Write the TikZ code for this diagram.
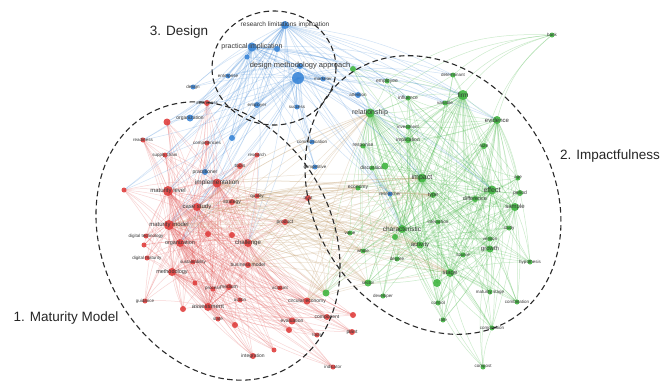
\documentclass[tikz,border=0pt]{standalone}
\usepackage{fontspec}
\setmainfont{Liberation Sans}
\usetikzlibrary{positioning}
\definecolor{mmred}{HTML}{E0403F}
\definecolor{impgreen}{HTML}{42B642}
\definecolor{dsgblue}{HTML}{3A86D8}
\definecolor{mixtan}{HTML}{C4A070}
\definecolor{termtext}{HTML}{383838}
\definecolor{hulldark}{HTML}{2A2A2A}

% term lists: name/x/y/dot radius/label size/label
\def\redterms{matlevel/168/191/5/6/maturity level, matmodel/169/225/5/6/maturity model,
  implement/217/183/4.5/6.5/implementation, casestudy/197/207/4/6/case study,
  challenge/248/243/4/6/challenge, assess/208/307/4/6/assessment,
  orgred/180/243/4/5.5/organization, method/172/272/4/5.5/methodology,
  readiness/143/140/2.5/4.5/readiness, supply/165/155/2.5/4.5/supply chain,
  competen/207/143/2.5/4.5/competencies, digtech/146/236/2.5/4.5/digital technology,
  digmat/147/258/2.5/4.5/digital maturity, sustain/193/262/2.5/4.5/sustainability,
  guidance/145/301/2.5/4.5/guidance, stater/218/319/2.5/4.5/state,
  integr/253/356/3/5/integration, evaluation/292/321/3.5/5/evaluation,
  circular/307/301/3.5/5/circular economy, component/327/317/3/5/component,
  topic/317/335/2.5/4.5/tools, plant/352/332/3/5/plant, indicator/333/367/2.5/4.5/indicator,
  account/280/288/2.5/4.5/account, medium/229/287/3/5/medium, process/213/289/2.5/4.5/process,
  action/240/300/2.5/4.5/action, business/248/265/3/5/business model,
  strategy/232/202/3/5/strategy, product/285/222/3/5/product, quality/257/196/2.5/4.5/quality,
  research/257/155/2.5/4.5/research, tools/240/166/3/5/tools, trust/308/198/3/4.5/trust,
  awareness/207/103/3/4.5/awareness,
  r1/167/122/3.5/4/{}, r2/124/190/2.5/4/{}, r3/144/245/2.5/4/{}, r4/183/309/3/4/{},
  r5/235/325/3/4/{}, r6/274/350/2.5/4/{}, r7/289/330/3/4/{}, r8/353/315/3/4/{},
  r9/195/283/2.5/4/{}, r10/208/234/3/4/{}, r11/232/235/3/4/{}}

\def\blueterms{dmhub/298/78/6/4/{}, designmeth/300/66/3/7.5/design methodology approach,
  reslim/285/25/4/6.5/research limitations implication, practical/252/47/4.5/7/practical implication,
  b1/277/49/3/4/{}, b2/247/57/2.5/4/{}, enterprise/228/76/2.5/4.5/enterprise,
  marketer/323/79/2.5/4.5/marketer, design/193/87/2.5/4.5/design,
  employer/257/105/3/4.5/employer, success/297/107/2.5/4.5/success,
  orgblue/190/118/3.5/5/organization, b3/232/138/3/4/{}, practitioner/205/172/3/5/practitioner,
  attention/358/95/3/4.5/attention, researcher/390/194/2.5/4.5/researcher,
  communication/312/142/2.5/4.5/communication, competitive/315/167/2.5/4.5/competitive}

\def\greenterms{firm/463/95/5/6.5/firm, impact/422/178/4.5/7/impact,
  relationship/370/113/4.5/7/relationship, effect/492/190/4.5/7/effect,
  sample/515/207/4/6/sample, stage/450/273/4/6/stage, characteristic/402/229/4/6.5/characteristic,
  activity/420/245/3.5/6/activity, growth/490/249/3.5/6/growth, evidence/497/120/4/6/evidence,
  determinant/453/75/2.5/4.5/determinant, employee/387/81/2.5/5/employee,
  influence/408/98/2.5/5/influence, variable/445/103/2.5/4.5/variable,
  investment/408/127/2.5/4.5/investment, implication/408/140/3/5/implication,
  response/363/146/2.5/5/response, discussion/372/168/2.5/5/discussion, g1/385/166/3.5/4/{},
  size/484/146/3/5/size, age/518/178/2.5/4.5/age, period/520/193/3/5/period,
  difference/475/199/3/5.5/difference, type/433/195/3/5.5/type, economy/358/188/2.5/5/economy,
  g2/395/237/3/4/{}, interaction/438/222/2.5/4.5/interaction, study/509/228/2.5/4.5/study,
  version/490/239/2.5/4.5/version, source/463/255/2.5/4.5/source,
  hypothesis/530/262/2.5/4.5/hypothesis, value/350/233/2.5/4.5/value, whole/363/251/2.5/4.5/whole,
  degree/397/259/2.5/4.5/degree, g3/437/283/4/4/{}, maturitystage/490/292/2.5/4.5/maturity stage,
  combination/517/302/2.5/4.5/combination, control/438/303/2.5/4.5/control,
  sector/368/283/3.5/4.5/sector, developer/383/296/2.5/4.5/developer, rate/443/320/2.5/4.5/rate,
  composition/492/328/2.5/4.5/composition, compost/483/367/2.5/4.5/compost,
  bank/552/35/2.5/4.5/bank, g4/353/69/3/4/{}, g5/326/293/3.5/4/{}}

\begin{document}
\begin{tikzpicture}[x=1pt, y=-1pt,
    redlink/.style={mmred!85!white, line width=0.5pt, opacity=0.26},
    greenlink/.style={impgreen, line width=0.5pt, opacity=0.27},
    bluelink/.style={dsgblue, line width=0.5pt, opacity=0.24},
    mixlink/.style={mixtan, line width=0.5pt, opacity=0.3},
    termlabel/.style={text=termtext, inner sep=0pt},
    hull/.style={hulldark, line width=1.1pt, dash pattern=on 5.5pt off 3.5pt},
    clusterlabel/.style={text=black!85, font=\fontsize{13.5}{15}\selectfont}]
    \useasboundingbox (0,0) rectangle (662,381);
    \fill[white] (0,0) rectangle (662,381);

    % Term positions
    \foreach \nm/\px/\py/\rad/\fs/\txt in \redterms {\coordinate (\nm) at (\px,\py);}
    \foreach \nm/\px/\py/\rad/\fs/\txt in \blueterms {\coordinate (\nm) at (\px,\py);}
    \foreach \nm/\px/\py/\rad/\fs/\txt in \greenterms {\coordinate (\nm) at (\px,\py);}

    % Red cluster links
    \foreach \a in {readiness,supply,competen,digtech,digmat,sustain,guidance,stater,integr,evaluation,circular,component,topic,plant,indicator,account,medium,process,action,business,strategy,product,quality,research,tools,trust,awareness,r1,r2,r3,r4,r5,r6,r7,r8,r9,r10,r11} {
        \foreach \b in {matlevel,matmodel,implement,challenge,casestudy,assess,orgred,method} {
            \draw[redlink] (\a) to[bend left=8] (\b);
        }
    }
    \foreach \a/\b in {matlevel/matmodel,matlevel/implement,matlevel/casestudy,matmodel/implement,matmodel/challenge,implement/challenge,casestudy/challenge,assess/matmodel,assess/challenge,implement/assess,orgred/matlevel,orgred/implement,orgred/challenge,method/matmodel,method/assess,method/casestudy} {
        \draw[redlink] (\a) to[bend left=8] (\b);
    }

    % Green cluster links
    \foreach \a in {sample,stage,activity,growth,evidence,determinant,employee,influence,variable,investment,implication,response,discussion,g1,size,age,period,difference,type,economy,g2,interaction,study,version,source,hypothesis,value,whole,degree,g3,maturitystage,combination,control,sector,developer,rate,composition,g4,g5} {
        \foreach \b in {firm,impact,relationship,effect,characteristic} {
            \draw[greenlink] (\a) to[bend left=8] (\b);
        }
    }
    \foreach \a in {size,age,period,difference,type,study,version,source,hypothesis,g3,maturitystage,combination,control,rate,composition,degree,whole,sector,influence,investment,implication,response} {
        \foreach \b in {stage,growth,sample,activity,evidence} {
            \draw[greenlink] (\a) to[bend right=8] (\b);
        }
    }
    \foreach \b in {firm,evidence,determinant,size,relationship,variable,employee} {
        \draw[greenlink] (bank) to[bend right=18] (\b);
    }
    \foreach \b in {stage,growth,control,composition,maturitystage,g3} {
        \draw[greenlink] (compost) to[bend left=10] (\b);
    }

    % Design cluster links
    \foreach \a in {b1,b2,enterprise,marketer,design,employer,success,orgblue,b3,practitioner,attention,researcher,communication,competitive} {
        \foreach \b in {dmhub,designmeth,practical,reslim} {
            \draw[bluelink] (\a) to[bend left=8] (\b);
        }
    }
    \foreach \a in {dmhub,practical,reslim} {
        \foreach \b in {firm,relationship,impact,evidence,effect,employee,determinant,characteristic,implication,influence,variable,g4,implement,matlevel,matmodel,casestudy,challenge,orgred,readiness,supply,competen,awareness,r1,r2} {
            \draw[bluelink] (\a) to[bend left=10] (\b);
        }
    }

    % Links between maturity and impact terms
    \foreach \a in {implement,challenge,casestudy,matmodel,product,circular,trust,strategy,business,quality} {
        \foreach \b in {characteristic,activity,impact,relationship,g5,value,whole,sector,economy,stage,type} {
            \draw[mixlink] (\a) to[bend left=6] (\b);
        }
    }

    % Term dots and labels
    \foreach \nm/\px/\py/\rad/\fs/\txt in \redterms {
        \fill[mmred, opacity=0.9] (\nm) circle[radius=\rad];
        \node[termlabel, font=\fontsize{\fs}{\fs}\selectfont] (\nm-l) at (\nm) {\txt};
    }
    \foreach \nm/\px/\py/\rad/\fs/\txt in \greenterms {
        \fill[impgreen, opacity=0.9] (\nm) circle[radius=\rad];
        \node[termlabel, font=\fontsize{\fs}{\fs}\selectfont] (\nm-l) at (\nm) {\txt};
    }
    \foreach \nm/\px/\py/\rad/\fs/\txt in \blueterms {
        \fill[dsgblue, opacity=0.9] (\nm) circle[radius=\rad];
        \node[termlabel, font=\fontsize{\fs}{\fs}\selectfont] (\nm-l) at (\nm) {\txt};
    }

    % Cluster outlines
    \draw[hull] (274,68) ellipse [x radius=62, y radius=57];
    \draw[hull, rotate around={-62.5:(218,241)}] (218,241) ellipse [x radius=145, y radius=115];
    \draw[hull, rotate around={-57:(433,195)}] (433,195) ellipse [x radius=147, y radius=119];

    % Cluster names
    \node[clusterlabel] (designname) at (179,32) {3. Design};
    \node[clusterlabel] (impactname) at (610,156) {2. Impactfulness};
    \node[clusterlabel] (maturityname) at (66,318) {1. Maturity Model};
\end{tikzpicture}
\end{document}
